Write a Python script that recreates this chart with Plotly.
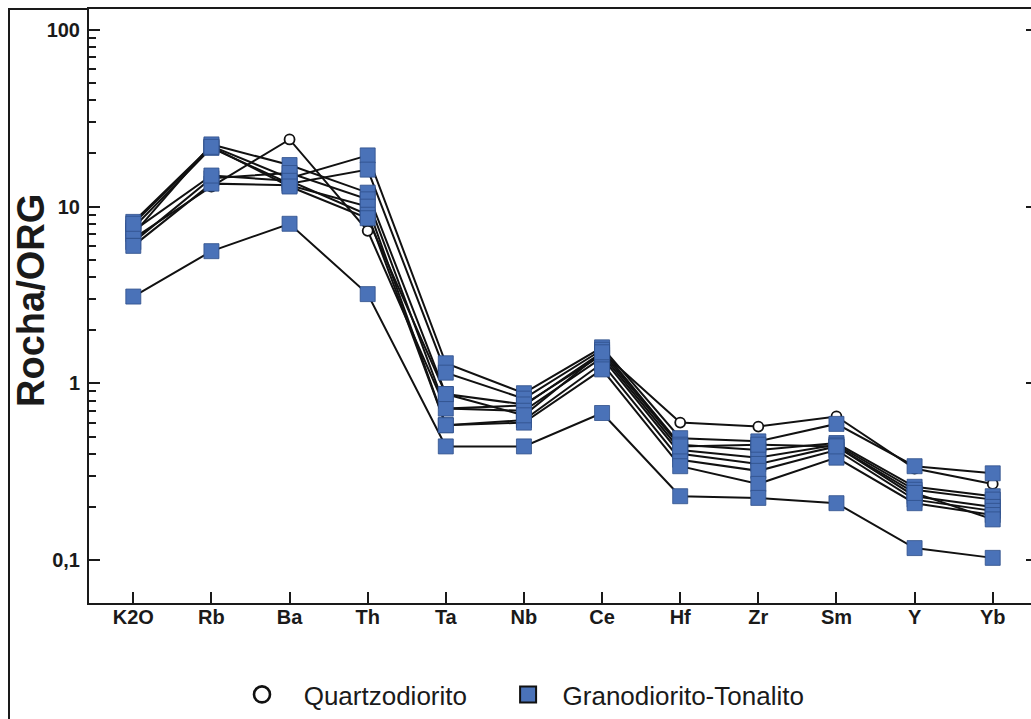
import plotly.graph_objects as go

# Elements normalised to ORG (ocean-ridge granite)
elements = ["K2O", "Rb", "Ba", "Th", "Ta", "Nb", "Ce", "Hf", "Zr", "Sm", "Y", "Yb"]

# Quartzodiorito sample
qzd_1 = [6.6, 13.0, 24.0, 7.3, 0.72, 0.75, 1.5, 0.60, 0.57, 0.65, 0.33, 0.27]

# Granodiorito-Tonalito samples
gdt_1 = [8.2, 22.0, 14.5, 19.5, 1.30, 0.88, 1.60, 0.49, 0.47, 0.59, 0.34, 0.31]
gdt_2 = [7.6, 21.5, 13.5, 16.2, 1.15, 0.82, 1.55, 0.45, 0.42, 0.46, 0.26, 0.23]
gdt_3 = [7.0, 22.5, 17.2, 12.0, 0.87, 0.76, 1.45, 0.42, 0.38, 0.45, 0.25, 0.22]
gdt_4 = [6.3, 14.5, 15.5, 11.0, 0.72, 0.70, 1.40, 0.40, 0.35, 0.44, 0.23, 0.20]
gdt_5 = [6.0, 13.5, 13.2, 10.0, 0.58, 0.62, 1.30, 0.37, 0.32, 0.42, 0.22, 0.19]
gdt_6 = [7.3, 15.0, 14.0, 9.0, 0.58, 0.60, 1.20, 0.34, 0.27, 0.38, 0.21, 0.18]
gdt_7 = [8.0, 21.8, 13.0, 8.6, 0.87, 0.66, 1.50, 0.44, 0.45, 0.44, 0.24, 0.17]
gdt_8 = [3.1, 5.6, 8.0, 3.2, 0.44, 0.44, 0.68, 0.23, 0.225, 0.21, 0.117, 0.103]

gdt_samples = [gdt_1, gdt_2, gdt_3, gdt_4, gdt_5, gdt_6, gdt_7, gdt_8]
qzd_samples = [qzd_1]

# Axis ticks
major_ticks = [0.1, 1, 10, 100]
major_text = ["0,1", "1", "10", "100"]
minor_ticks = [m * d for d in (0.1, 1, 10) for m in range(2, 10)]

FONT = "Liberation Sans, Arial, sans-serif"
INK = "#1a1a1a"
BLUE = "#4a72b8"
BLUE_EDGE = "#2f4f8a"
NBSP = "\u00a0"

fig = go.Figure()

# Connecting lines first so every symbol sits on top of them
for s in qzd_samples + gdt_samples:
    fig.add_trace(go.Scatter(x=elements, y=s, mode="lines",
                             line=dict(color="#111111", width=2),
                             showlegend=False, hoverinfo="skip"))

for s in qzd_samples:
    fig.add_trace(go.Scatter(x=elements, y=s, mode="markers",
                             marker=dict(symbol="circle", size=10, color="white",
                                         line=dict(color="#111111", width=1.8)),
                             showlegend=False))
for s in gdt_samples:
    fig.add_trace(go.Scatter(x=elements, y=s, mode="markers",
                             marker=dict(symbol="square", size=15, color=BLUE,
                                         line=dict(color=BLUE_EDGE, width=0.8)),
                             showlegend=False))

# Legend entries
fig.add_trace(go.Scatter(x=[None], y=[None], mode="markers",
                         name=NBSP * 3 + "Quartzodiorito" + NBSP * 5,
                         marker=dict(symbol="circle-open", size=16, color="#111111",
                                     line=dict(color="#111111", width=2.6))))
fig.add_trace(go.Scatter(x=[None], y=[None], mode="markers",
                         name=NBSP * 2 + "Granodiorito-Tonalito",
                         marker=dict(symbol="square", size=17, color=BLUE,
                                     line=dict(color="#111111", width=2))))

# Empty trace that carries the right-hand tick marks
fig.add_trace(go.Scatter(x=[None], y=[None], yaxis="y2", showlegend=False,
                         hoverinfo="skip"))

W, H = 1031, 719
L, R, T, B = 89, 1031, 9, 603
pw, ph = R - L, B - T


def px(x):
    return (x - L) / pw


def py(y):
    return (B - y) / ph


log_range = [-1.2425, 2.1184]

fig.update_layout(
    width=W, height=H,
    margin=dict(l=L, r=W - R, t=T, b=H - B, autoexpand=False),
    paper_bgcolor="white", plot_bgcolor="white",
    font=dict(family=FONT, color=INK),
    showlegend=True,
    legend=dict(orientation="h", x=px(242), y=py(718), xanchor="left", yanchor="bottom",
                font=dict(size=26, family=FONT, color=INK),
                itemwidth=30, tracegroupgap=0, bgcolor="rgba(0,0,0,0)"),
    xaxis=dict(
        type="category", categoryorder="array", categoryarray=elements,
        range=[-0.567, 11.49],
        showline=True, linecolor=INK, linewidth=2, mirror=True,
        ticks="inside", ticklen=11, tickwidth=1.5, tickcolor=INK,
        tickfont=dict(size=20, family=FONT, weight="bold", color=INK),
        ticklabelstandoff=-5,
        showgrid=False, zeroline=False,
    ),
    yaxis=dict(
        type="log", range=log_range,
        tickvals=major_ticks, ticktext=major_text,
        showline=True, linecolor=INK, linewidth=2,
        ticks="inside", ticklen=11, tickwidth=1.5, tickcolor=INK,
        minor=dict(tickvals=minor_ticks, ticks="inside", ticklen=7, tickwidth=1.5,
                   tickcolor=INK, showgrid=False),
        tickfont=dict(size=20, family=FONT, weight="bold", color=INK),
        ticklabelstandoff=3,
        showgrid=False, zeroline=False,
    ),
    yaxis2=dict(
        type="log", range=log_range, overlaying="y", side="right",
        tickvals=major_ticks, showticklabels=False,
        showline=False, ticks="inside", ticklen=5, tickwidth=1.5, tickcolor=INK,
        showgrid=False, zeroline=False,
    ),
    annotations=[dict(
        text="Rocha/ORG", textangle=-90, x=px(31), y=py(301),
        xref="paper", yref="paper", xanchor="center", yanchor="middle",
        showarrow=False, font=dict(size=38, family=FONT, weight="bold", color=INK),
    )],
    shapes=[dict(
        type="path", xref="paper", yref="paper",
        path=f"M {px(9)},{py(719)} L {px(9)},{py(9)} L {px(89)},{py(9)}",
        line=dict(color=INK, width=2),
    )],
)

fig.write_html("out.html")
